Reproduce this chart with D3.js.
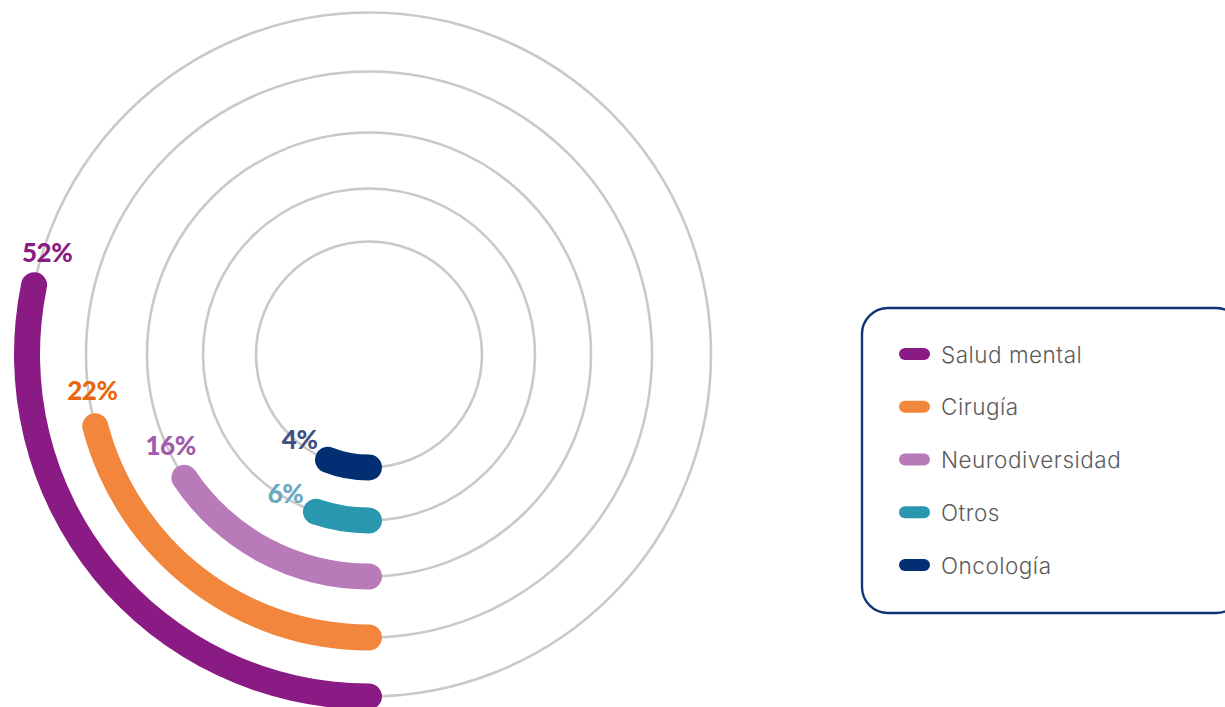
<!DOCTYPE html>
<html>
<head>
<meta charset="utf-8">
<script src="https://cdn.jsdelivr.net/npm/d3@7"></script>
<style>
  html, body { margin: 0; padding: 0; background: #ffffff; }
  svg { display: block; }
</style>
</head>
<body>
<svg id="chart" width="1225" height="707"></svg>
<script>
// ---- data ----
const categories = ["Salud mental", "Cirugía", "Neurodiversidad", "Otros", "Oncología"];
const values = [52, 22, 16, 6, 4];
const labels = ["52%", "22%", "16%", "6%", "4%"];
const colors = ["#8a1b84", "#f2863d", "#b97ab9", "#2997ae", "#022e74"];
const labelColors = ["#8a1b84", "#e9670f", "#a15aa9", "#6aa9bf", "#3f5183"];

// ---- layout ----
const svg = d3.select("#chart");
const cx = 369, cy = 354.5;
const thick = 26;

// ring radius per category (outermost = first), matching the design's spacing
const ringR = d3.scaleOrdinal().domain(categories).range([342, 283, 222, 166, 113]);

// value -> arc length (px) along the ring (design's non-linear mapping)
const lenScale = d3.scaleLinear()
  .domain([0, 4, 6, 16, 22, 52])
  .range([0, 42, 54, 218, 372, 607]);

const g = svg.append("g").attr("transform", `translate(${cx},${cy})`);

// background rings
g.selectAll("circle.ring")
  .data(categories)
  .join("circle")
  .attr("class", "ring")
  .attr("r", d => ringR(d))
  .attr("fill", "none")
  .attr("stroke", "#c9c9c9")
  .attr("stroke-width", 2.6);

const cap = thick / 2;
const arcGen = d3.arc()
  .innerRadius(d => d.r - cap)
  .outerRadius(d => d.r + cap)
  .cornerRadius(cap)
  .startAngle(d => Math.PI - cap / d.r)
  .endAngle(d => Math.PI + lenScale(d.v) / d.r + cap / d.r);

const arcData = categories.map((c, i) => ({ c, v: values[i], r: ringR(c), i }));

g.selectAll("path.bar")
  .data(arcData)
  .join("path")
  .attr("class", "bar")
  .attr("d", arcGen)
  .attr("fill", d => colors[d.i]);

// percent labels
g.selectAll("text.pct")
  .data(arcData)
  .join("text")
  .attr("class", "pct")
  .each(function(d) {
    const a = Math.PI + (lenScale(d.v) + 36) / d.r;
    const R = d.r - 4;
    d3.select(this)
      .attr("x", R * Math.sin(a))
      .attr("y", -R * Math.cos(a));
  })
  .attr("text-anchor", "middle")
  .attr("dominant-baseline", "central")
  .attr("font-family", "Lato, 'Open Sans', sans-serif")
  .attr("font-weight", 900)
  .attr("font-size", 26)
  .attr("letter-spacing", -0.5)
  .attr("fill", d => labelColors[d.i])
  .text(d => labels[d.i]);

// ---- legend ----
const lg = svg.append("g");
lg.append("rect")
  .attr("x", 862).attr("y", 308)
  .attr("width", 380).attr("height", 305)
  .attr("rx", 26).attr("ry", 26)
  .attr("fill", "#ffffff")
  .attr("stroke", "#133577")
  .attr("stroke-width", 2.4);

const ly = d3.scalePoint().domain(categories).range([354, 565]);

const items = lg.selectAll("g.item")
  .data(categories)
  .join("g")
  .attr("class", "item")
  .attr("transform", d => `translate(0,${ly(d)})`);

items.append("rect")
  .attr("x", 899).attr("y", -6)
  .attr("width", 31).attr("height", 12)
  .attr("rx", 6).attr("ry", 6)
  .attr("fill", (d, i) => colors[i]);

items.append("text")
  .attr("x", 941)
  .attr("y", 0)
  .attr("dominant-baseline", "central")
  .attr("font-family", "Inter, Lato, sans-serif")
  .attr("font-weight", 300)
  .attr("font-size", 22.5)
  .attr("letter-spacing", 0.5)
  .attr("fill", "#5b5b5b")
  .text(d => d);
</script>
</body>
</html>
